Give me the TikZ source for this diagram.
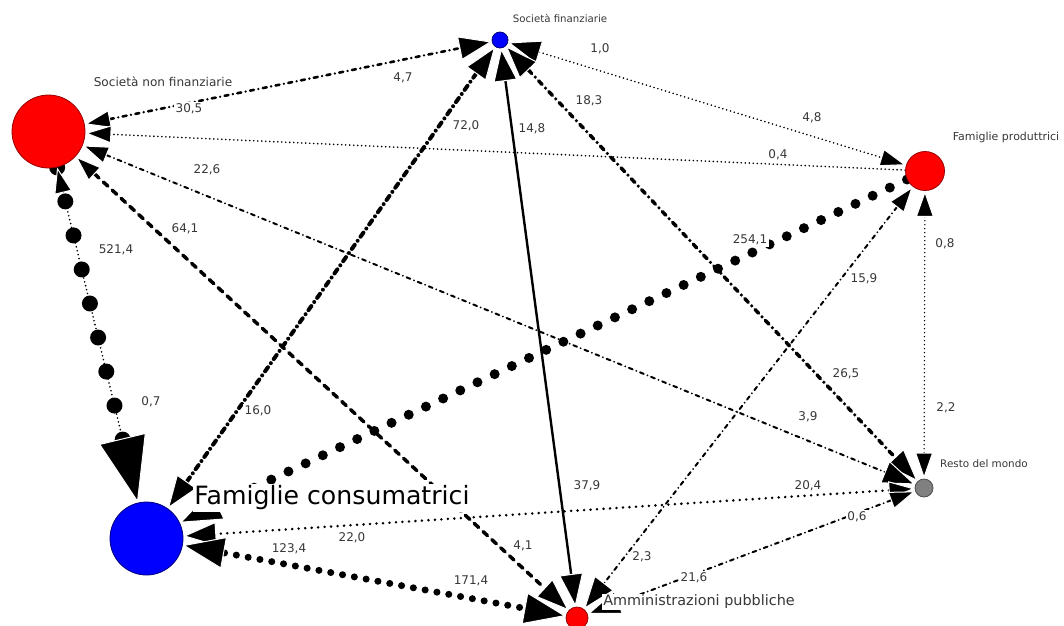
\documentclass[tikz,border=0pt]{standalone}
\usepackage{fontspec}
\setmainfont{DejaVu Sans}
\usetikzlibrary{arrows.meta}
\pgfdeclarelayer{bg}
\pgfsetlayers{bg,main}
\definecolor{lbl}{RGB}{55,55,55}
\definecolor{nred}{RGB}{255,0,0}
\definecolor{nredb}{RGB}{150,0,0}
\definecolor{nblue}{RGB}{0,0,255}
\definecolor{nblueb}{RGB}{0,0,120}
\definecolor{ngray}{RGB}{128,128,128}
\tikzset{
  vtx/.style={circle, inner sep=0pt, line width=0.8pt},
  num/.style={fill=white, text=lbl, font=\fontsize{12}{12}\selectfont, inner sep=1.5pt},
  nlab/.style={text=lbl, inner sep=1pt},
  aS/.tip={Triangle[length=26pt,width=18pt,fill=black,color=white,line width=1pt 0]},
  aM/.tip={Triangle[length=33pt,width=24pt,fill=black,color=white,line width=1pt 0]},
  aL/.tip={Triangle[length=42pt,width=32pt,fill=black,color=white,line width=1pt 0]},
  aXL/.tip={Triangle[length=66pt,width=48pt,fill=black,color=white,line width=1pt 0]},
  thindot/.style={line width=1.8pt, dash pattern=on 0pt off 4pt, line cap=round},
  dotmed/.style={line width=2.8pt, dash pattern=on 0pt off 6.5pt, line cap=round},
  ddthin/.style={line width=2pt, dash pattern=on 4pt off 4pt on 0pt off 4pt, line cap=round},
  ddmid/.style={line width=2.6pt, dash pattern=on 4pt off 4.5pt on 0pt off 4.5pt, line cap=round},
  ddthick/.style={line width=3.5pt, dash pattern=on 5pt off 5pt on 0pt off 5pt, line cap=round},
  dashthick/.style={line width=3.5pt, dash pattern=on 6pt off 6pt, line cap=round},
  solidline/.style={line width=2.4pt},
  bigdots/.style={line width=16pt, dash pattern=on 0pt off 35pt, line cap=round, dash phase=0pt},
  middots/.style={line width=10pt, dash pattern=on 0pt off 19pt, line cap=round},
  smalldots/.style={line width=7pt, dash pattern=on 0pt off 12pt, line cap=round},
  tinydots/.style={line width=5pt, dash pattern=on 0pt off 12pt, line cap=round, dash phase=6pt},
}
\begin{document}
\begin{tikzpicture}[x=1pt,y=-1pt]
\useasboundingbox (0,0) rectangle (1064,625);
\clip (0,0) rectangle (1064,625);
% vertices
\node[vtx, fill=nred, draw=nredb, minimum size=73pt] (snf) at (48.5,131.5) {};
\node[vtx, fill=nblue, draw=nblueb, minimum size=16pt] (sf) at (500,40) {};
\node[vtx, fill=nred, draw=nredb, minimum size=39pt] (fp) at (925,171) {};
\node[vtx, fill=ngray, draw=black!70, minimum size=18pt] (rdm) at (924,488) {};
\node[vtx, fill=nred, draw=nredb, minimum size=22pt] (ap) at (577,618) {};
\node[vtx, fill=nblue, draw=nblueb, minimum size=73pt] (fc) at (146.5,538.5) {};
% vertex labels
\node[nlab, font=\fontsize{12.1}{12}\selectfont] (lsnf) at (163,82) {Società non finanziarie};
\node[nlab, font=\fontsize{10.2}{10}\selectfont] (lsf) at (560,18) {Società finanziarie};
\node[nlab, font=\fontsize{11}{11}\selectfont] (lfp) at (1006,137) {Famiglie produttrici};
\node[nlab, font=\fontsize{10.4}{10}\selectfont] (lrdm) at (984,464) {Resto del mondo};
\node[nlab, fill=white, font=\fontsize{14.4}{14}\selectfont] (lap) at (699,602) {Amministrazioni pubbliche};
\node[nlab, fill=white, text=black, font=\fontsize{25.2}{25}\selectfont, inner sep=1.5pt] (lfc) at (332,498) {Famiglie consumatrici};
% edges
\begin{pgfonlayer}{bg}
\draw[ddmid, aS-aM] (snf) -- (sf);
\draw[thindot, aM-aS] (sf) -- (fp);
\draw[ddthick, aM-aM] (sf) -- (rdm);
\draw[ddthick, line width=4pt, aM-aM] (sf) -- (fc);
\draw[solidline, aM-aM] (sf) -- (ap);
\draw[thindot, -aS] (fp) -- (snf);
\draw[ddthin, aS-aM] (snf) -- (rdm);
\draw[dashthick, aS-aM] (snf) -- (ap);
\draw[bigdots, shorten >=60pt] (snf) -- (fc);
\draw[thindot, aS-aXL] (snf) -- (fc);
\draw[middots, -aL] (fp) -- (fc);
\draw[ddthin, aS-aM] (fp) -- (ap);
\draw[thindot, line width=1.5pt, aS-aS] (fp) -- (rdm);
\draw[dotmed, aS-aM] (rdm) -- (fc);
\draw[ddthin, aS-aM] (rdm) -- (ap);
\draw[smalldots, shorten <=35pt, shorten >=35pt] (ap) -- (fc);
\draw[tinydots, aL-aL] (ap) -- (fc);
\end{pgfonlayer}
% edge labels
\node[num] (e1) at (189,109) {30,5};
\node[num] (e2) at (403,78) {4,7};
\node[num] (e3) at (600,49) {1,0};
\node[num] (e4) at (812,118) {4,8};
\node[num] (e5) at (589,101) {18,3};
\node[num] (e6) at (846,374) {26,5};
\node[num] (e7) at (466,126) {72,0};
\node[num] (e8) at (258,411) {16,0};
\node[num] (e9) at (532,129) {14,8};
\node[num] (e10) at (587,486) {37,9};
\node[num] (e11) at (778,155) {0,4};
\node[num] (e12) at (207,170) {22,6};
\node[num] (e13) at (808,417) {3,9};
\node[num] (e14) at (185,229) {64,1};
\node[num] (e15) at (523,546) {4,1};
\node[num] (e16) at (116,250) {521,4};
\node[num] (e17) at (151,402) {0,7};
\node[num] (e18) at (750,240) {254,1};
\node[num] (e19) at (864,279) {15,9};
\node[num] (e20) at (642,557) {2,3};
\node[num] (e21) at (945,244) {0,8};
\node[num] (e22) at (946,408) {2,2};
\node[num] (e23) at (808,486) {20,4};
\node[num] (e24) at (352,538) {22,0};
\node[num] (e25) at (857,517) {0,6};
\node[num] (e26) at (694,578) {21,6};
\node[num] (e27) at (289,549) {123,4};
\node[num] (e28) at (471,581) {171,4};
\end{tikzpicture}
\end{document}
